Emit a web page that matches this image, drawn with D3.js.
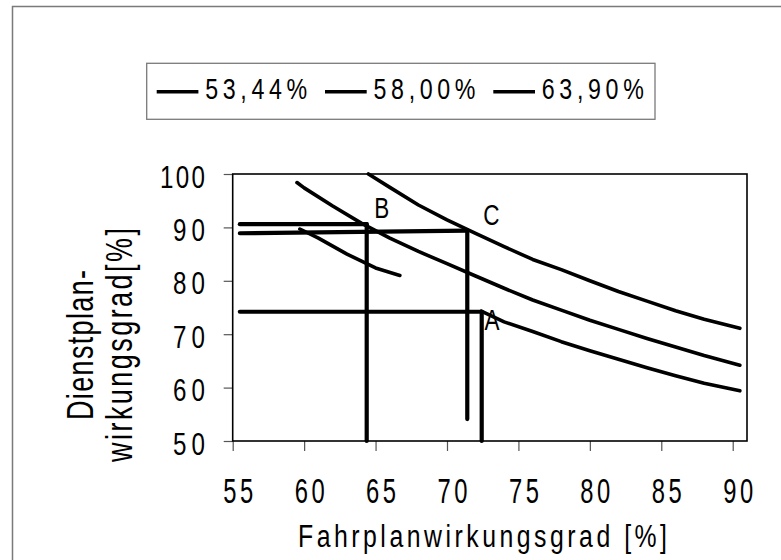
<!DOCTYPE html>
<html>
<head>
<meta charset="utf-8">
<script src="https://cdn.jsdelivr.net/npm/d3@7"></script>
<style>
  html, body { margin: 0; padding: 0; background: #fff; }
  svg { display: block; }
  text { font-family: "Liberation Sans", Arial, sans-serif; fill: #000; }
</style>
</head>
<body>
<svg id="chart" width="781" height="560"></svg>
<script>
// ---------- data ----------
const seriesNames = ["53,44%", "58,00%", "63,90%"];

// 53,44% (gap between the two drawn pieces)
const x5344 = [59.7, 61, 63, 65, 66.7, null, 72.4, 74, 76, 78, 80, 82, 84, 86, 88, 90.5];
const y5344 = [89.7, 88.0, 85.0, 82.4, 81.0, null, 74.3, 72.3, 70.5, 68.6, 66.9, 65.3, 63.7, 62.2, 60.8, 59.4];

// 58,00%
const x5800 = [59.5, 60, 62, 64, 66, 68, 70, 72, 74, 76, 78, 80, 82, 84, 86, 88, 90.5];
const y5800 = [98.4, 97.4, 94.0, 90.8, 88.0, 85.5, 83.2, 80.9, 78.6, 76.4, 74.5, 72.6, 70.9, 69.2, 67.6, 66.0, 64.2];

// 63,90%
const x6390 = [64.5, 66, 68, 70, 72, 74, 76, 78, 80, 82, 84, 86, 88, 90.5];
const y6390 = [100, 97.5, 94.2, 91.4, 88.9, 86.4, 84.0, 82.1, 80.0, 78.0, 76.2, 74.4, 72.8, 71.1];

// guide lines (x1, y1, x2, y2) in data units
const guideX1 = [55.5, 64.38, 55.5, 71.42, 55.5, 72.43];
const guideY1 = [90.6, 90.6, 88.9, 89.4, 74.2, 74.2];
const guideX2 = [64.38, 64.38, 71.42, 71.42, 72.43, 72.43];
const guideY2 = [90.6, 50, 89.4, 54.1, 74.2, 50];

// point labels
const pointLabels = ["B", "C", "A"];
const pointLabelX = [65.43, 73.1, 73.15];
const pointLabelY = [93.9, 92.5, 72.9];

// axis ticks
const xTicks = [55, 60, 65, 70, 75, 80, 85, 90];
const yTicks = [50, 60, 70, 80, 90, 100];

const xTitle = "Fahrplanwirkungsgrad [%]";
const yTitleLines = ["Dienstplan-", "wirkungsgrad[%]"];

// ---------- helpers ----------
// condensed glyphs (scaleX) spread to a target width with extra letter spacing
function condensedText(parent, str, tx, ty, fontSize, width, sx, anchor, rotate) {
  const t = parent.append("text")
    .attr("transform", `translate(${tx},${ty})${rotate ? " rotate(" + rotate + ")" : ""} scale(${sx},1)`)
    .attr("font-size", fontSize)
    .attr("text-anchor", anchor || "start")
    .attr("textLength", width / sx)
    .attr("lengthAdjust", "spacing")
    .text(str);
  return t;
}

// ---------- drawing ----------
const svg = d3.select("#chart");
const L = 232.7, R = 747, T = 174, B = 441;
const x = d3.scaleLinear().domain([55, 91]).range([L, R]);
const y = d3.scaleLinear().domain([50, 100]).range([B, T]);

// outer frame
svg.append("rect").attr("x", 12.5).attr("y", 6.5).attr("width", 900).attr("height", 700)
  .attr("fill", "none").attr("stroke", "#7a7a7a").attr("stroke-width", 1.5);

// axes (ticks via d3-axis, labels redrawn condensed)
const xAxis = svg.append("g").attr("transform", `translate(0,${B})`)
  .call(d3.axisBottom(x).tickValues(xTicks).tickSize(10).tickSizeOuter(0).tickPadding(0));
xAxis.select(".domain").remove();
xAxis.selectAll(".tick line").attr("stroke", "#555").attr("stroke-width", 1.2);
xAxis.selectAll(".tick text").remove();
xAxis.selectAll(".tick").each(function(d) {
  condensedText(d3.select(this), String(d), 5, 62, 35, 30, 0.68, "middle");
});

const yAxis = svg.append("g").attr("transform", `translate(${L},0)`)
  .call(d3.axisLeft(y).tickValues(yTicks).tickSize(9).tickSizeOuter(0).tickPadding(0));
yAxis.select(".domain").remove();
yAxis.selectAll(".tick line").attr("stroke", "#555").attr("stroke-width", 1.2);
yAxis.selectAll(".tick text").remove();
yAxis.selectAll(".tick").each(function(d) {
  const s = String(d);
  condensedText(d3.select(this), s, -27.7, 13, 31, s.length === 3 ? 45 : 32, 0.78, "end");
});

// plot border
svg.append("rect").attr("x", L).attr("y", T).attr("width", R - L).attr("height", B - T)
  .attr("fill", "none").attr("stroke", "#000").attr("stroke-width", 1.6);

// guide lines
const guides = guideX1.map((v, i) => ({x1: v, y1: guideY1[i], x2: guideX2[i], y2: guideY2[i]}));
svg.append("g").selectAll("line").data(guides).join("line")
  .attr("x1", d => x(d.x1)).attr("y1", d => y(d.y1))
  .attr("x2", d => x(d.x2)).attr("y2", d => y(d.y2))
  .attr("stroke", "#000").attr("stroke-width", 4.2).attr("stroke-linecap", "round");

// curves
const seriesX = [x5344, x5800, x6390];
const seriesY = [y5344, y5800, y6390];
const line = d3.line()
  .defined(d => d[0] !== null && d[1] !== null)
  .x(d => x(d[0])).y(d => y(d[1]));
seriesX.forEach((xs, i) => {
  const pts = xs.map((v, j) => [v, seriesY[i][j]]);
  svg.append("path").datum(pts).attr("d", line)
    .attr("fill", "none").attr("stroke", "#000").attr("stroke-width", 3.6)
    .attr("stroke-linecap", "round").attr("stroke-linejoin", "round");
});

// point labels
const pl = svg.append("g");
pointLabels.forEach((lab, i) => {
  condensedText(pl, lab, x(pointLabelX[i]), y(pointLabelY[i]) + 11, 30, 15, 0.75, "middle");
});

// legend
const lg = svg.append("g");
lg.append("rect").attr("x", 146.7).attr("y", 63.3).attr("width", 508.3).attr("height", 56)
  .attr("fill", "#fff").attr("stroke", "#7a7a7a").attr("stroke-width", 1.3);
const legLineX = [156.7, 325, 493.3];
seriesNames.forEach((name, i) => {
  lg.append("line").attr("x1", legLineX[i]).attr("x2", legLineX[i] + 41.7)
    .attr("y1", 91.7).attr("y2", 91.7).attr("stroke", "#000").attr("stroke-width", 3.6);
  condensedText(lg, name, legLineX[i] + 48.5, 98.5, 29, 102, 0.8, "start");
});

// x title
condensedText(svg, xTitle, 298, 546.5, 31, 369, 0.8, "start");

// y title (two rotated lines)
const yTitleBase = [93, 132];
const yTitleLen = [150, 234];
yTitleLines.forEach((t, i) => {
  condensedText(svg, t, yTitleBase[i], 345, 36, yTitleLen[i], 0.75, "middle", -90);
});
</script>
</body>
</html>
